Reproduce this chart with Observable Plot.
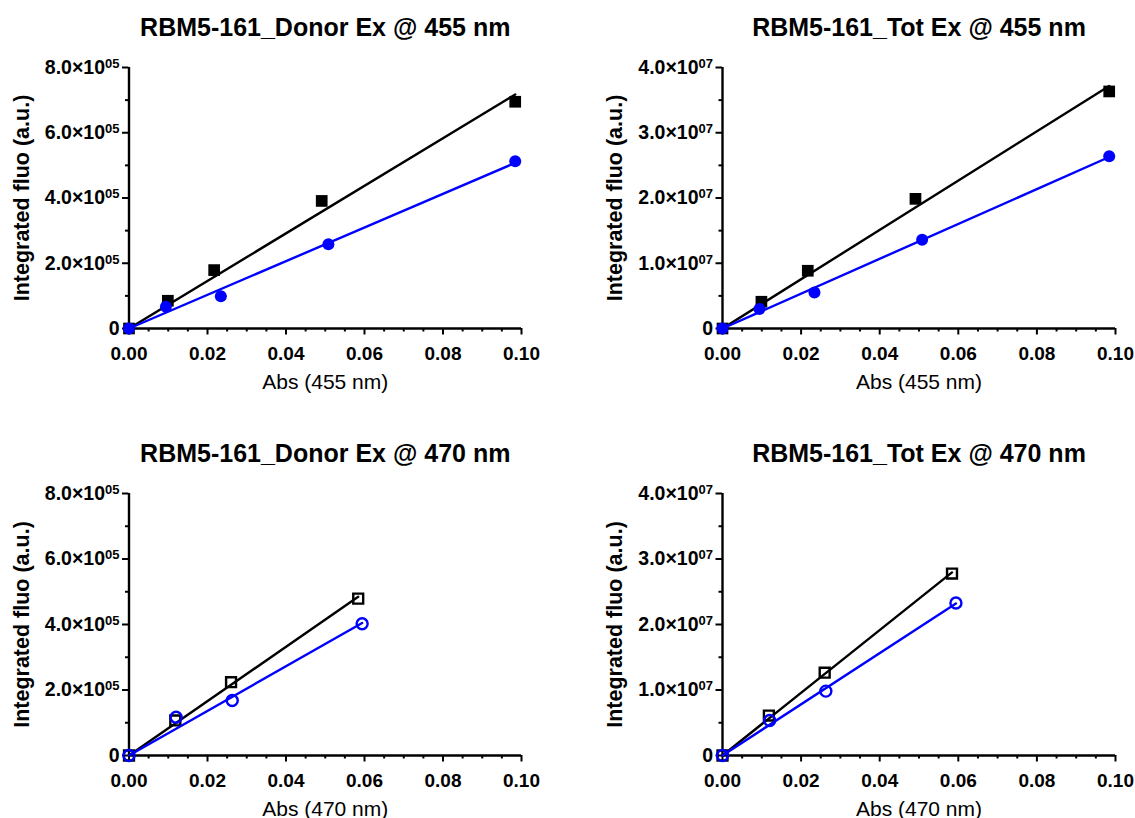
<!DOCTYPE html>
<html><head><meta charset="utf-8">
<script src="https://cdn.jsdelivr.net/npm/d3@7"></script>
<script src="https://cdn.jsdelivr.net/npm/@observablehq/plot@0.6"></script>
<style>
body{margin:0;background:#fff;width:1135px;height:818px;overflow:hidden;position:relative;font-family:"Liberation Sans",Arial,sans-serif}
.panel{position:absolute}
</style></head><body>
<div id="p1" class="panel" style="left:0;top:0"></div>
<div id="p2" class="panel" style="left:567px;top:0"></div>
<div id="p3" class="panel" style="left:0;top:426px"></div>
<div id="p4" class="panel" style="left:567px;top:426px"></div>
<script>
// ---- data ----
const titles = ["RBM5-161_Donor Ex @ 455 nm", "RBM5-161_Tot Ex @ 455 nm", "RBM5-161_Donor Ex @ 470 nm", "RBM5-161_Tot Ex @ 470 nm"];
const xLabels = ["Abs (455 nm)", "Abs (455 nm)", "Abs (470 nm)", "Abs (470 nm)"];
const yLabel = "Integrated fluo (a.u.)";

// absorbance values (x)
const abs455Black = [0, 0.0099, 0.0217, 0.0491, 0.0984];
const abs455Blue  = [0, 0.0094, 0.0234, 0.0508, 0.0984];
const abs470Black = [0, 0.0118, 0.0260, 0.0584];
const abs470Blue  = [0, 0.0120, 0.0263, 0.0594];

// integrated fluorescence (y)
const donor455Black = [0, 85000, 179000, 391000, 695000];
const donor455Blue  = [0, 67000, 99000, 258500, 513000];
const tot455Black   = [0, 4.10e6, 8.85e6, 1.987e7, 3.633e7];
const tot455Blue    = [0, 3.00e6, 5.50e6, 1.36e7, 2.64e7];
const donor470Black = [0, 107000, 224000, 479000];
const donor470Blue  = [0, 117000, 168000, 402500];
const tot470Black   = [0, 6.10e6, 1.264e7, 2.777e7];
const tot470Blue    = [0, 5.35e6, 9.83e6, 2.329e7];

// ticks
const xTicks = [0, 0.02, 0.04, 0.06, 0.08, 0.10];
const xMinorTicks = [0.005, 0.01, 0.015, 0.025, 0.03, 0.035, 0.045, 0.05, 0.055, 0.065, 0.07, 0.075, 0.085, 0.09, 0.095];
const yTicksDonor = [0, 2e5, 4e5, 6e5, 8e5];
const yMinorDonor = [1e5, 3e5, 5e5, 7e5];
const yTicksTot = [0, 1e7, 2e7, 3e7, 4e7];
const yMinorTot = [0.5e7, 1.5e7, 2.5e7, 3.5e7];

const BLUE = "#0000ff";
const FONT = "'Liberation Sans', Arial, Helvetica, sans-serif";

function table(xs, ys) { return xs.map((x, i) => ({x, y: ys[i]})); }
// linear fit constrained through origin, drawn from 0 to the largest x
function fitLine(xs, ys) {
  const k = d3.sum(xs, (x, i) => x * ys[i]) / d3.sum(xs, x => x * x);
  const m = d3.max(xs);
  return [{x: 0, y: 0}, {x: m, y: k * m}];
}

function panel(el, o) {
  const e = o.exp;
  const fmt = d => d === 0 ? "0" : (d / 10 ** e).toFixed(1) + "×10^" + String(e).padStart(2, "0");
  const bk = table(o.xBlack, o.black), bl = table(o.xBlue, o.blue);
  const sq = o.filled
    ? {symbol: "square", r: 6.6, fill: "black", stroke: "none"}
    : {symbol: "square", r: 5.6, fill: "none", stroke: "black", strokeWidth: 2.4};
  const ci = o.filled
    ? {symbol: "circle", r: 6, fill: BLUE, stroke: "none"}
    : {symbol: "circle", r: 5.5, fill: "none", stroke: BLUE, strokeWidth: 2.4};
  const svg = Plot.plot({
    width: o.width, height: o.height,
    marginLeft: o.marginLeft, marginRight: o.marginRight, marginTop: 67, marginBottom: o.height - 67 - o.frameH,
    x: {domain: [0, 0.1]},
    y: {domain: [0, o.yTicks[o.yTicks.length - 1]]},
    style: {fontFamily: FONT, color: "black", background: "white", overflow: "visible"},
    marks: [
      Plot.axisX({ticks: xMinorTicks, tickSize: 3.5, strokeWidth: 2, tickFormat: () => "", label: null}),
      Plot.axisX({ticks: xTicks, tickSize: 6.5, tickPadding: 11.5, strokeWidth: 2, tickFormat: d3.format(".2f"), fontSize: 19, fontWeight: "bold", label: null}),
      Plot.axisY({ticks: o.yMinor, tickSize: 3.5, strokeWidth: 2, tickFormat: () => "", label: null}),
      Plot.axisY({ticks: o.yTicks, tickSize: 6.5, tickPadding: 3, strokeWidth: 2, tickFormat: fmt, fontSize: 19.5, fontWeight: "bold", label: null}),
      Plot.ruleY([0], {stroke: "black", strokeWidth: 2.4}),
      Plot.ruleX([0], {stroke: "black", strokeWidth: 2.4}),
      Plot.line(fitLine(o.xBlack, o.black), {x: "x", y: "y", stroke: "black", strokeWidth: 2.4}),
      Plot.dot(bk, {x: "x", y: "y", ...sq}),
      Plot.line(fitLine(o.xBlue, o.blue), {x: "x", y: "y", stroke: BLUE, strokeWidth: 2.4}),
      Plot.dot(bl, {x: "x", y: "y", ...ci}),
      Plot.text([o.title], {text: d => d, frameAnchor: "top", textAnchor: "middle", dy: -40, lineAnchor: "middle", fontSize: 25, fontWeight: "bold", fill: "black"}),
      Plot.text([o.xLabel], {text: d => d, frameAnchor: "bottom", textAnchor: "middle", dy: 54, lineAnchor: "middle", fontSize: 21, fontWeight: "normal", fill: "black"}),
      Plot.text([yLabel], {text: d => d, frameAnchor: "left", textAnchor: "middle", rotate: -90, dx: -107, lineAnchor: "middle", fontSize: 21.5, fontWeight: "bold", fill: "black"})
    ]
  });
  // turn "^05" into a real superscript
  svg.querySelectorAll("text").forEach(t => {
    const s = t.textContent;
    if (s.includes("^")) {
      const [base, sup] = s.split("^");
      const tgt = t.querySelector("tspan") || t;
      tgt.textContent = base;
      const ts = document.createElementNS("http://www.w3.org/2000/svg", "tspan");
      ts.setAttribute("dy", "-0.45em");
      ts.setAttribute("font-size", "13");
      ts.textContent = sup;
      tgt.appendChild(ts);
    }
  });
  document.getElementById(el).appendChild(svg);
}

panel("p1", {title: titles[0], xLabel: xLabels[0], xBlack: abs455Black, xBlue: abs455Blue, black: donor455Black, blue: donor455Blue,
  yTicks: yTicksDonor, yMinor: yMinorDonor, exp: 5, filled: true, width: 567, height: 409, frameH: 261, marginLeft: 128.5, marginRight: 46});
panel("p2", {title: titles[1], xLabel: xLabels[1], xBlack: abs455Black, xBlue: abs455Blue, black: tot455Black, blue: tot455Blue,
  yTicks: yTicksTot, yMinor: yMinorTot, exp: 7, filled: true, width: 568, height: 409, frameH: 261, marginLeft: 155, marginRight: 20});
panel("p3", {title: titles[2], xLabel: xLabels[2], xBlack: abs470Black, xBlue: abs470Blue, black: donor470Black, blue: donor470Blue,
  yTicks: yTicksDonor, yMinor: yMinorDonor, exp: 5, filled: false, width: 567, height: 392, frameH: 262, marginLeft: 128.5, marginRight: 46});
panel("p4", {title: titles[3], xLabel: xLabels[3], xBlack: abs470Black, xBlue: abs470Blue, black: tot470Black, blue: tot470Blue,
  yTicks: yTicksTot, yMinor: yMinorTot, exp: 7, filled: false, width: 568, height: 392, frameH: 262, marginLeft: 155, marginRight: 20});
</script>
</body></html>
